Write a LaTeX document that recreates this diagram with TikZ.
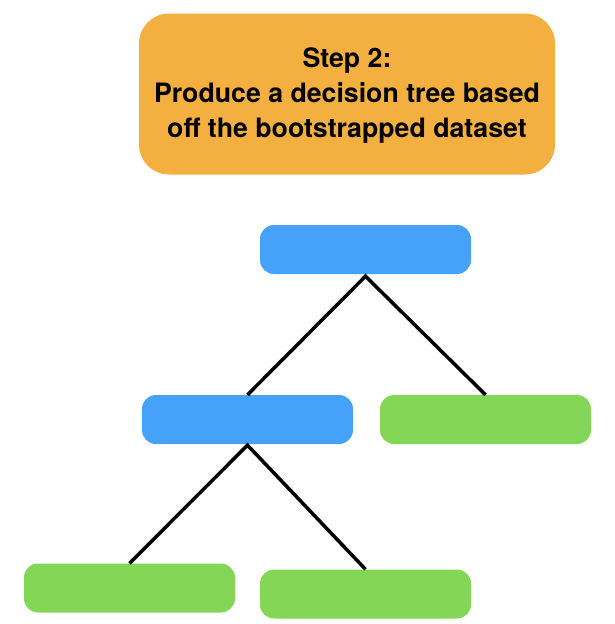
\documentclass[tikz,border=0pt]{standalone}
\usepackage{fontspec}
\setmainfont{TeX Gyre Heros}
\usepackage{tikz}

\definecolor{stepcolor}{RGB}{243,176,64}
\definecolor{splitcolor}{RGB}{69,162,248}
\definecolor{leafcolor}{RGB}{132,214,86}

\tikzset{
    stepbox/.style={fill=stepcolor, rounded corners=30pt, minimum width=416pt, minimum height=161pt, inner sep=0pt, align=center, font=\fontsize{26.7}{35}\selectfont\bfseries},
    splitbox/.style={fill=splitcolor, rounded corners=14pt, minimum width=211pt, minimum height=49pt, inner sep=0pt},
    leafbox/.style={splitbox, fill=leafcolor},
    branch/.style={line width=3.5pt, black}
}

\begin{document}
\begin{tikzpicture}[x=1pt, y=-1pt]
            \useasboundingbox (0,0) rectangle (614,624);
            \node[stepbox] (step) at (347,94) {};
            \node[align=center, font=\fontsize{26.7}{35}\selectfont\bfseries, inner sep=0pt] (steptext) at (347,96) {Step 2:\\Produce a decision tree based\\off the bootstrapped dataset};
            \node[splitbox] (root) at (365.5,249.5) {};
            \node[splitbox] (split) at (247.5,419.5) {};
            \node[leafbox] (leafa) at (485.5,419.5) {};
            \node[leafbox] (leafb) at (129.5,588) {};
            \node[leafbox] (leafc) at (365.5,594) {};
            \draw[branch] (split.north) -- ([yshift=-2pt]root.south) -- (leafa.north);
            \draw[branch] (leafb.north) -- ([yshift=-1pt]split.south) -- (leafc.north);
        \end{tikzpicture}
\end{document}
